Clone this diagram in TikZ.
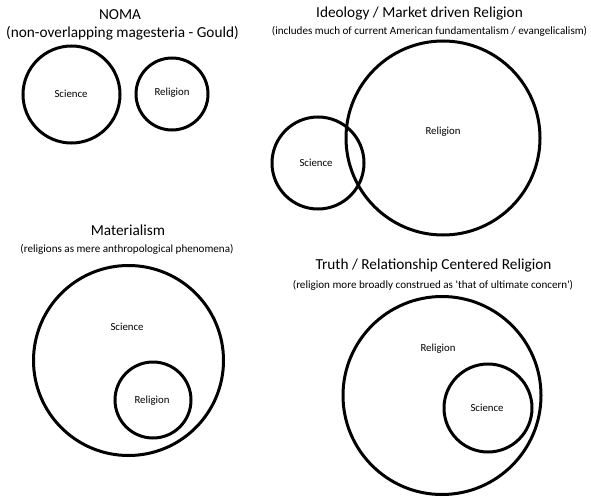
\documentclass[tikz,border=0pt]{standalone}
\usepackage{fontspec}
\setmainfont{Carlito}
\begin{document}
\begin{tikzpicture}[x=1pt,y=-1pt,
  ring/.style={draw=black,line width=3pt,circle,inner sep=0pt,minimum size=#1},
  ttl/.style={font=\fontsize{15.3}{17}\selectfont,inner sep=0pt,anchor=center},
  sub/.style={font=\fontsize{11.1}{13}\selectfont,inner sep=0pt,anchor=center},
  lbl/.style={font=\fontsize{10.8}{12}\selectfont,inner sep=0pt,anchor=center}]
\useasboundingbox[fill=white] (0,0) rectangle (591,500);
% NOMA
\node[ttl] (t1) at (120,15) {NOMA};
\node[ttl] (s1) at (122.5,33) {(non-overlapping magesteria - Gould)};
\node[ring=97pt] (c1) at (71.5,94.5) {};
\node[ring=72pt] (c2) at (172,94) {};
\node[lbl] (l1) at (71,94) {Science};
\node[lbl] (l2) at (172,93) {Religion};
% Ideology
\node[ttl] (t2) at (419.5,14) {Ideology / Market driven Religion};
\node[sub] (s2) at (429.5,31) {(includes much of current American fundamentalism / evangelicalism)};
\node[ring=194pt] (c3) at (443,138) {};
\node[ring=92pt] (c4) at (318,163) {};
\node[lbl] (l3) at (443,132) {Religion};
\node[lbl] (l4) at (316,163) {Science};
% Materialism
\node[ttl] (t3) at (128,230) {Materialism};
\node[sub] (s3) at (127,249) {(religions as mere anthropological phenomena)};
\node[ring=190pt] (c5) at (128.5,360.5) {};
\node[ring=76pt] (c6) at (153,400) {};
\node[lbl] (l5) at (127,327) {Science};
\node[lbl] (l6) at (152,401) {Religion};
% Truth
\node[ttl] (t4) at (433.5,266) {Truth / Relationship Centered Religion};
\node[sub] (s4) at (433,285) {(religion more broadly construed as \textquotesingle that of ultimate concern\textquotesingle)};
\node[ring=198pt] (c7) at (442,395.5) {};
\node[ring=88pt] (c8) at (488,408) {};
\node[lbl] (l7) at (438,349) {Religion};
\node[lbl] (l8) at (487,408) {Science};
\end{tikzpicture}
\end{document}
